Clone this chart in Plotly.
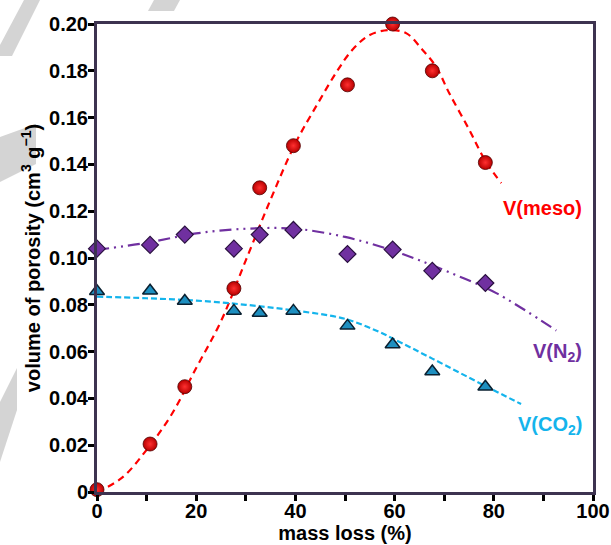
import plotly.graph_objects as go

# ---- data ----
mass_loss = [0, 10.7, 17.7, 27.6, 32.8, 39.6, 50.5, 59.6, 67.6, 78.3]
v_meso = [0.001, 0.0205, 0.045, 0.087, 0.130, 0.148, 0.174, 0.200, 0.180, 0.1408]
v_n2 = [0.1040, 0.1056, 0.1100, 0.1040, 0.1100, 0.1120, 0.1017, 0.1036, 0.0945, 0.0893]
v_co2 = [0.0858, 0.0860, 0.0816, 0.0774, 0.0765, 0.0774, 0.0710, 0.0630, 0.0515, 0.0450]

# fitted trend curves
fit_meso_x = [0, 5, 10, 15, 20, 25, 30, 35, 40, 44.5, 48.3, 51.5, 55, 59, 62.4, 65.6, 68.4, 71, 75, 78.3, 81.5]
fit_meso_y = [0.000, 0.006, 0.018, 0.033, 0.053, 0.073, 0.099, 0.125, 0.149, 0.166, 0.1795, 0.189, 0.1953,
              0.1974, 0.196, 0.189, 0.1816, 0.1705, 0.155, 0.1415, 0.132]
fit_n2_x = [0, 10, 20, 30, 40, 50, 58, 65, 72.4, 80.5, 92.6]
fit_n2_y = [0.1035, 0.1065, 0.1105, 0.1125, 0.1125, 0.1090, 0.1043, 0.0990, 0.0927, 0.0850, 0.0690]
fit_co2_x = [0, 10, 20, 30, 40, 50, 57, 60, 67.6, 78.3, 85.5]
fit_co2_y = [0.0835, 0.0828, 0.0818, 0.0800, 0.0775, 0.0740, 0.0683, 0.0652, 0.0570, 0.0453, 0.0376]

x_ticks = [0, 20, 40, 60, 80, 100]
x_ticklabels = ["0", "20", "40", "60", "80", "100"]
y_ticks = [0, 0.02, 0.04, 0.06, 0.08, 0.10, 0.12, 0.14, 0.16, 0.18, 0.20]
y_ticklabels = ["0", "0.02", "0.04", "0.06", "0.08", "0.10", "0.12", "0.14", "0.16", "0.18", "0.20"]

RED = "#ff0000"
PURPLE = "#7030a0"
CYAN = "#14b4ec"
TRI = "#1e8fc0"
FRAME = "#3d3350"
FONT = "Liberation Sans, Arial, sans-serif"

fig = go.Figure()

# curves
fig.add_trace(go.Scatter(x=fit_meso_x, y=fit_meso_y, mode="lines", line_shape="spline",
                         line=dict(color=RED, width=2.2, dash="7px,5px"), hoverinfo="skip",
                         cliponaxis=False))
fig.add_trace(go.Scatter(x=fit_n2_x, y=fit_n2_y, mode="lines", line_shape="spline",
                         line=dict(color=PURPLE, width=2.2, dash="12px,5px,2px,5px,2px,5px"),
                         hoverinfo="skip", cliponaxis=False))
fig.add_trace(go.Scatter(x=fit_co2_x, y=fit_co2_y, mode="lines", line_shape="spline",
                         line=dict(color=CYAN, width=2.2, dash="6px,3px"), hoverinfo="skip",
                         cliponaxis=False))

# markers
fig.add_trace(go.Scatter(x=mass_loss, y=v_n2, mode="markers", cliponaxis=False,
                         marker=dict(symbol="diamond", size=13, color=PURPLE,
                                     line=dict(color="#2a1040", width=1.2))))
fig.add_trace(go.Scatter(x=mass_loss, y=v_co2, mode="markers", cliponaxis=False,
                         marker=dict(symbol="triangle-up", size=13, color=TRI,
                                     line=dict(color="#0a2030", width=1.5))))
fig.add_trace(go.Scatter(x=mass_loss, y=v_meso, mode="markers", cliponaxis=False,
                         marker=dict(symbol="circle", size=14, color="#b80000",
                                     gradient=dict(type="radial", color="#ff3030"),
                                     line=dict(color="#500000", width=0.8))))

# labels
fig.add_annotation(x=98.2, y=0.1214, text="<b>V(meso)</b>", showarrow=False, xanchor="right",
                   yanchor="middle", font=dict(color=RED, size=20, family=FONT))
fig.add_annotation(x=98.2, y=0.0595, text="<b>V(N<sub>2</sub>)</b>", showarrow=False, xanchor="right",
                   yanchor="middle", font=dict(color=PURPLE, size=20, family=FONT))
fig.add_annotation(x=98.2, y=0.0283, text="<b>V(CO<sub>2</sub>)</b>", showarrow=False, xanchor="right",
                   yanchor="middle", font=dict(color=CYAN, size=20, family=FONT))

# faint grey watermark stripes (decoration)
L, R, T, B = 97, 593, 24, 492
def px(pts):
    s = ""
    for i, (a, b) in enumerate(pts):
        xp = (a - L) / (R - L)
        yp = (B - b) / (B - T)
        s += ("M" if i == 0 else "L") + f"{xp:.4f},{yp:.4f} "
    return s + "Z"
stripes = [
    [(24, 0), (40, 0), (12, 56), (0, 56), (0, 45)],
    [(154, 0), (180, 0), (174, 11), (148, 11)],
    [(0, 137), (36, 124), (36, 164), (0, 182)],
    [(0, 402), (17, 368), (17, 410), (0, 462)],
]
for st in stripes:
    fig.add_shape(type="path", path=px(st), xref="paper", yref="paper",
                  fillcolor="#d4d4d4", line=dict(width=0), layer="below")

axis_common = dict(showline=True, mirror=True, linecolor=FRAME, linewidth=3,
                   ticks="outside", tickcolor="#000000", tickwidth=2.5, ticklen=6,
                   showgrid=False, zeroline=False, automargin=False,
                   tickfont=dict(size=20, color="#000000", family=FONT))

fig.update_xaxes(range=[0, 100], tickmode="array", tickvals=x_ticks,
                 ticktext=[f"<b>{t}</b>" for t in x_ticklabels], ticklabelstandoff=-7,
                 minor=dict(dtick=10, tick0=0, ticks="outside", ticklen=6, tickwidth=2.5,
                            tickcolor="#000000", showgrid=False),
                 title=dict(text="<b>mass loss (%)</b>", font=dict(size=20, color="#000", family=FONT),
                            standoff=4),
                 **axis_common)
fig.update_yaxes(range=[0, 0.2], tickmode="array", tickvals=y_ticks,
                 ticktext=[f"<b>{t}</b>" for t in y_ticklabels], ticklabelstandoff=-4,
                 title=dict(text="<b>volume of porosity (cm<sup>3</sup> g<sup>−1</sup>)</b>",
                            font=dict(size=20, color="#000", family=FONT), standoff=4),
                 **axis_common)

fig.update_layout(width=611, height=545, margin=dict(l=97, r=18, t=24, b=53),
                  template="none",
                  paper_bgcolor="white", plot_bgcolor="white", showlegend=False,
                  font=dict(family=FONT))

fig.write_html("out.html")
